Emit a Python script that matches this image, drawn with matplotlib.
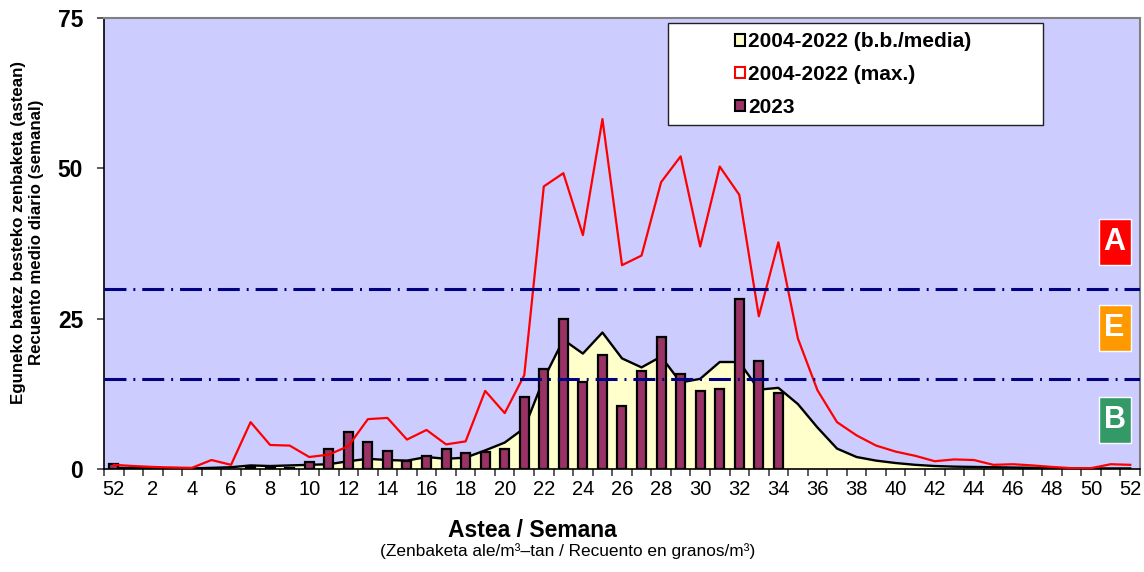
import numpy as np
import matplotlib
matplotlib.use('Agg')
import matplotlib.pyplot as plt
from matplotlib.patches import Patch, Rectangle

plt.rcParams['font.family'] = ['Liberation Sans', 'DejaVu Sans']
plt.rcParams['lines.scale_dashes'] = False

# week categories: 52 of previous year, then 1..52
weeks = [52] + list(range(1, 53))

# 2004-2022 mean (area)
mean_vals = [0.2, 0.15, 0.1, 0.1, 0.1, 0.2, 0.3, 0.6, 0.5, 0.6,
             0.7, 0.8, 1.3, 1.7, 1.5, 1.4, 2.0, 1.7, 1.9, 3.1,
             4.4, 6.8, 15.0, 21.5, 19.2, 22.7, 18.4, 16.9, 18.7, 14.4,
             15.0, 17.8, 17.8, 13.2, 13.5, 10.8, 6.9, 3.4, 2.0, 1.4,
             1.0, 0.7, 0.5, 0.4, 0.35, 0.3, 0.25, 0.2, 0.15, 0.1,
             0.1, 0.1, 0.1]

# 2004-2022 max (red line)
max_vals = [0.7, 0.5, 0.35, 0.25, 0.2, 1.5, 0.7, 7.8, 4.0, 3.9,
            2.0, 2.4, 3.8, 8.3, 8.5, 4.9, 6.5, 4.1, 4.6, 13.0,
            9.3, 15.6, 47.0, 49.2, 38.9, 58.2, 33.9, 35.5, 47.7, 52.0,
            37.0, 50.3, 45.6, 25.4, 37.7, 21.7, 13.1, 7.8, 5.6, 3.9,
            2.9, 2.2, 1.3, 1.6, 1.5, 0.7, 0.8, 0.6, 0.35, 0.15,
            0.15, 0.8, 0.7]

# 2023 bars (no data after week 34)
vals_2023 = [0.8, 0.1, 0.1, 0.1, np.nan, np.nan, np.nan, 0.4, 0.1, 0.1,
             1.2, 3.4, 6.2, 4.5, 3.0, 1.3, 2.2, 3.3, 2.7, 2.8,
             3.4, 12.0, 16.6, 24.9, 14.4, 19.0, 10.5, 16.3, 22.0, 15.8,
             12.9, 13.3, 28.3, 17.9, 12.6] + [np.nan] * 18

thresholds = [15, 30]
levels = ['A', 'E', 'B']
level_colors = ['#FF0000', '#FF9900', '#339966']
level_centers = [37.7, 23.4, 8.2]

x = np.arange(len(weeks))

fig = plt.figure(figsize=(11.44, 5.72), dpi=100)
ax = fig.add_axes([0.0909, 0.18, 0.9056, 0.7885])
ax.set_facecolor('#CCCCFF')

ax.fill_between(x, mean_vals, color='#FFFFCC', lw=0, zorder=1)
ax.plot(x, mean_vals, color='black', lw=1.7, zorder=2)
ax.bar(x, vals_2023, width=0.46, color='#993366', edgecolor='black', lw=1.6, zorder=3)
ax.plot(x, max_vals, color='#FF0000', lw=1.6, zorder=4)
for t in thresholds:
    ax.axhline(t, color='#000080', lw=2.2, ls=(0, (15.8, 5, 1.4, 5)), zorder=5)

# level boxes on the right
for lab, col, yc in zip(levels, level_colors, level_centers):
    ax.add_patch(Rectangle((51.2 - 0.82, yc - 3.82), 1.64, 7.65,
                           facecolor=col, edgecolor='white', lw=1, zorder=6))
    ax.text(51.2, yc, lab, color='white', fontsize=22, fontweight='bold',
            ha='center', va='center', zorder=7)

ax.set_xlim(-0.5, 52.5)
ax.set_ylim(0, 75)

# ticks between categories, labels on even categories
ax.set_xticks(np.arange(-0.5, 53, 1))
ax.set_xticklabels([])
ax.set_xticks(x[::2], minor=True)
ax.set_xticklabels([str(w) for w in weeks[::2]], minor=True)
ax.tick_params(axis='x', which='major', length=5, width=1.2, color='#404040')
ax.tick_params(axis='x', which='minor', length=0, labelsize=14.5, pad=8)

ax.set_yticks([0, 25, 50, 75])
ax.tick_params(axis='y', length=5, width=1.2, color='#404040', labelsize=16.5, pad=10)
for lbl in ax.get_yticklabels():
    lbl.set_fontweight('bold')

ax.spines['left'].set_color('black')
ax.spines['bottom'].set_color('black')
ax.spines['left'].set_linewidth(1.2)
ax.spines['bottom'].set_linewidth(1.2)
for s in ['top', 'right']:
    ax.spines[s].set_color('#808080')
    ax.spines[s].set_linewidth(1.5)

ax.set_ylabel("Eguneko batez besteko zenbaketa (astean)\nRecuento medio diario (semanal)",
              fontsize=12.2, fontweight='bold', labelpad=10, linespacing=1.25)
ax.yaxis.label.set_y(0.525)

# legend inside a white box
ax.add_patch(Rectangle((0.5444, 0.7627), 0.362, 0.2262, transform=ax.transAxes,
                       facecolor='white', edgecolor='#202020', lw=1, zorder=8))
handles = [Patch(facecolor='#FFFFCC', edgecolor='black', lw=1.5),
           Patch(facecolor='white', edgecolor='#FF0000', lw=1.5),
           Patch(facecolor='#993366', edgecolor='black', lw=1.5)]
labels = ['2004-2022 (b.b./media)', '2004-2022 (max.)', '2023']
leg = ax.legend(handles, labels, loc='upper left', bbox_to_anchor=(0.609, 0.969),
                frameon=False, borderpad=0, borderaxespad=0,
                prop={'size': 15, 'weight': 'bold'},
                handlelength=0.5, handleheight=0.5, handletextpad=0.15,
                labelspacing=0.67)
leg.set_zorder(9)

fig.text(0.465, 0.0717, 'Astea / Semana', fontsize=16.5, fontweight='bold',
         ha='center', va='center')
fig.text(0.4965, 0.0367, '(Zenbaketa ale/m³–tan / Recuento en granos/m³)',
         fontsize=12.4, ha='center', va='center')

fig.savefig('out.png', dpi=100)
